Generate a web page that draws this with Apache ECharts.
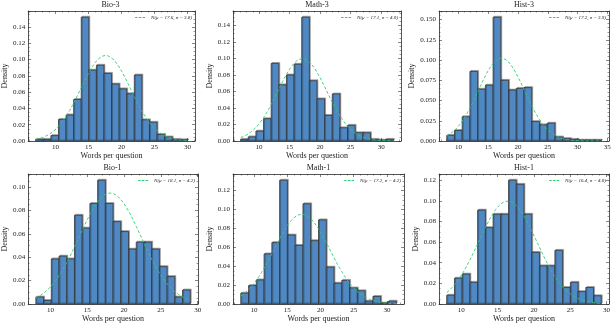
<!DOCTYPE html>
<html>
<head>
<meta charset="utf-8">
<script src="https://cdn.jsdelivr.net/npm/echarts@6/dist/echarts.min.js"></script>
<style>
  html, body { margin: 0; padding: 0; background: #fff; }
  #chart { width: 614px; height: 324px; }
</style>
</head>
<body>
<div id="chart"></div>
<script>
// 六个子图：词数分布直方图 + 正态拟合曲线
const titles = ['Bio-3', 'Math-3', 'Hist-3', 'Bio-1', 'Math-1', 'Hist-1'];
const binStart = [7, 7, 8, 8, 8, 8];
const binWidth = [1.15, 1.25, 1.3, 1.05, 1.17, 1.064];
const mus = [17.6, 17.1, 17.2, 18.1, 17.2, 16.4];
const sigmas = [3.8, 4.0, 3.9, 4.2, 4.2, 4.0];

const bio3 = [0.002, 0.002, 0.0066, 0.0265, 0.032, 0.051, 0.152, 0.087, 0.093, 0.083,
  0.070, 0.064, 0.058, 0.081, 0.026, 0.023, 0.008, 0.005, 0.002, 0.0015];
const math3 = [0.002, 0.005, 0.012, 0.027, 0.094, 0.068, 0.080, 0.093, 0.150, 0.073,
  0.051, 0.031, 0.057, 0.016, 0.019, 0.010, 0.010, 0.002, 0.001, 0.002];
const hist3 = [0.007, 0.013, 0.030, 0.086, 0.064, 0.069, 0.153, 0.075, 0.063, 0.065,
  0.066, 0.024, 0.020, 0.022, 0.005, 0.003, 0.002, 0.001, 0.001, 0.001];
const bio1 = [0.006, 0.003, 0.0386, 0.041, 0.0386, 0.076, 0.065, 0.086, 0.106, 0.086,
  0.0705, 0.062, 0.047, 0.053, 0.053, 0.047, 0.032, 0.0235, 0.006, 0.012];
const math1 = [0.0115, 0.0195, 0.0255, 0.053, 0.065, 0.131, 0.073, 0.062, 0.106, 0.067,
  0.089, 0.039, 0.022, 0.025, 0.017, 0.014, 0.003, 0.008, 0.001, 0.003];
const hist1 = [0.0085, 0.025, 0.029, 0.021, 0.091, 0.074, 0.087, 0.087, 0.120, 0.116,
  0.087, 0.050, 0.037, 0.037, 0.052, 0.016, 0.021, 0.012, 0.016, 0.008];
const densities = [bio3, math3, hist3, bio1, math1, hist1];

const yStep = [0.02, 0.02, 0.025, 0.02, 0.02, 0.02];
const yDecimals = [2, 2, 3, 2, 2, 2];

const chart = echarts.init(document.getElementById('chart'));
const font = 'Liberation Serif';
const frameColor = '#555';
const curveColor = '#2ecc71';

// 子图位置（像素）
const boxes = [
  { left: 26, right: 195, top: 11, bottom: 141 },
  { left: 233, right: 401, top: 11, bottom: 141 },
  { left: 439, right: 609, top: 11, bottom: 141 },
  { left: 27, right: 198, top: 174, bottom: 304 },
  { left: 233, right: 404, top: 174, bottom: 304 },
  { left: 439, right: 609, top: 174, bottom: 304 }
];

const grid = [], xAxis = [], yAxis = [], series = [], title = [], legend = [];

titles.forEach(function (name, i) {
  const b = boxes[i];
  const dens = densities[i];
  const lo = binStart[i];
  const hi = binStart[i] + binWidth[i] * dens.length;
  const pad = (hi - lo) * 0.05;
  const ymax = Math.max.apply(null, dens) * 1.05;

  grid.push({ left: b.left, top: b.top, width: b.right - b.left, height: b.bottom - b.top });

  const tickCommon = {
    axisLine: { show: true, onZero: false, lineStyle: { color: frameColor, width: 1 } },
    axisTick: { show: true, inside: true, length: 3, lineStyle: { color: '#333', width: 0.6 } },
    minorTick: { show: true, length: 1.5, lineStyle: { color: '#333', width: 0.5 } },
    splitLine: { show: false }
  };

  // 下方 x 轴
  xAxis.push(Object.assign({
    type: 'value', gridIndex: i, position: 'bottom',
    min: lo - pad, max: hi + pad, minInterval: 5, maxInterval: 5,
    name: 'Words per question', nameLocation: 'middle', nameGap: 11,
    nameTextStyle: { fontFamily: font, fontSize: 8, color: '#222' },
    axisLabel: { fontFamily: font, fontSize: 7, color: '#222', margin: 3, showMinLabel: false, showMaxLabel: false }
  }, tickCommon, { minorTick: Object.assign({}, tickCommon.minorTick, { splitNumber: 5 }) }));
  // 上方 x 轴（只画刻度）
  xAxis.push(Object.assign({
    type: 'value', gridIndex: i, position: 'top',
    min: lo - pad, max: hi + pad, minInterval: 5, maxInterval: 5,
    axisLabel: { show: false }
  }, tickCommon, { minorTick: Object.assign({}, tickCommon.minorTick, { splitNumber: 5 }) }));

  const yMinor = yStep[i] === 0.025 ? 5 : 4;
  yAxis.push(Object.assign({
    type: 'value', gridIndex: i, position: 'left',
    min: 0, max: ymax, interval: yStep[i],
    name: 'Density', nameLocation: 'middle', nameGap: yDecimals[i] === 3 ? 23 : 19,
    nameTextStyle: { fontFamily: font, fontSize: 8, color: '#222' },
    axisLabel: {
      fontFamily: font, fontSize: 7, color: '#222', margin: 3, showMaxLabel: false,
      formatter: function (v) { return v.toFixed(yDecimals[i]); }
    }
  }, tickCommon, { minorTick: Object.assign({}, tickCommon.minorTick, { splitNumber: yMinor }) }));
  yAxis.push(Object.assign({
    type: 'value', gridIndex: i, position: 'right',
    min: 0, max: ymax, interval: yStep[i],
    axisLabel: { show: false }
  }, tickCommon, { minorTick: Object.assign({}, tickCommon.minorTick, { splitNumber: yMinor }) }));

  title.push({
    text: name, left: (b.left + b.right) / 2, top: b.top - 10, textAlign: 'center', padding: 0,
    textStyle: { fontFamily: font, fontSize: 8, fontWeight: 'normal', color: '#222' }
  });

  const bars = dens.map(function (d, k) {
    return [lo + k * binWidth[i], lo + (k + 1) * binWidth[i], d];
  });
  series.push({
    type: 'custom', xAxisIndex: i * 2, yAxisIndex: i * 2,
    data: bars, encode: { x: [0, 1], y: 2 },
    renderItem: function (params, api) {
      const p0 = api.coord([api.value(0), api.value(2)]);
      const p1 = api.coord([api.value(1), 0]);
      return {
        type: 'rect',
        shape: { x: p0[0], y: p0[1], width: p1[0] - p0[0], height: p1[1] - p0[1] },
        style: {
          fill: '#4f88c2', stroke: '#333', lineWidth: 0.8,
          shadowColor: 'rgba(0,0,0,0.3)', shadowOffsetX: 1, shadowOffsetY: -1, shadowBlur: 0
        }
      };
    }
  });

  // 正态拟合曲线
  const curve = [];
  const n = 120;
  for (let k = 0; k <= n; k++) {
    const x = lo + (hi - lo) * k / n;
    const z = (x - mus[i]) / sigmas[i];
    curve.push([x, Math.exp(-0.5 * z * z) / (sigmas[i] * Math.sqrt(2 * Math.PI))]);
  }
  const curveName = 'N(μ = ' + mus[i].toFixed(1) + ', σ = ' + sigmas[i].toFixed(1) + ')';
  series.push({
    type: 'line', name: curveName, xAxisIndex: i * 2, yAxisIndex: i * 2,
    data: curve, showSymbol: false, symbol: 'none', smooth: false,
    lineStyle: { color: curveColor, width: 0.9, type: [3, 2] },
    itemStyle: { color: curveColor }, z: 5
  });
  legend.push({
    data: [curveName], right: 614 - b.right + 3, top: b.top + 4,
    icon: 'path://M0,0h3v1h-3z M4.5,0h3v1h-3z M9,0h3v1h-3z',
    itemWidth: 10, itemHeight: 1.2, itemGap: 2, padding: 0,
    itemStyle: { color: curveColor, borderWidth: 0 },
    lineStyle: { width: 0 },
    textStyle: { fontFamily: font, fontSize: 5, fontStyle: 'italic', color: '#222', padding: [0, 0, 0, 1] }
  });
});

const option = {
  backgroundColor: '#fff',
  animation: false,
  title: title,
  legend: legend,
  grid: grid,
  xAxis: xAxis,
  yAxis: yAxis,
  series: series
};
chart.setOption(option);
</script>
</body>
</html>
